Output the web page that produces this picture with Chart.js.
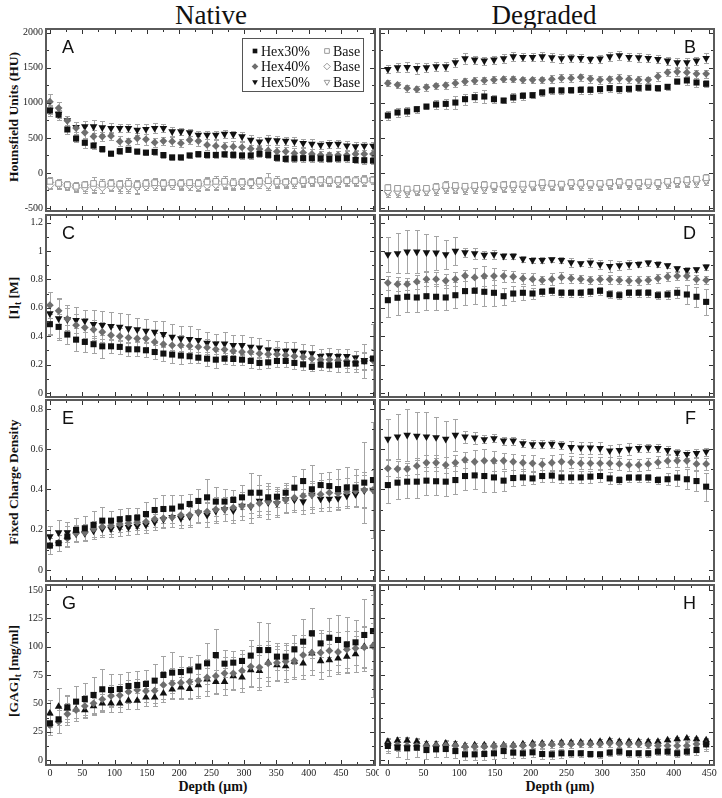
<!DOCTYPE html>
<html>
<head>
<meta charset="utf-8">
<title>Native vs Degraded</title>
<script src="https://cdn.jsdelivr.net/npm/chart.js@4.4.0/dist/chart.umd.min.js"></script>
<style>
  body { margin: 0; background: #fff; }
  #page { position: relative; width: 722px; height: 798px; overflow: hidden; font-family: "Liberation Serif", "Times New Roman", serif; color: #111; }
  canvas { position: absolute; }
  .colTitle { position: absolute; top: 0; font-size: 27px; line-height: 30px; text-align: center; white-space: nowrap; }
  .yTitle { position: absolute; left: 13px; font-weight: bold; font-size: 13.5px; line-height: 15px; white-space: nowrap; transform: translate(-50%, -50%) rotate(-90deg); }
  .yTitle sub { font-size: 9.5px; vertical-align: -3px; line-height: 0; }
  .xTitle { position: absolute; top: 779px; font-weight: bold; font-size: 14px; line-height: 16px; white-space: nowrap; transform: translateX(-50%); }
</style>
</head>
<body>
<div id="page">
  <div class="colTitle" style="left:111px;width:200px">Native</div>
  <div class="colTitle" style="left:444px;width:200px">Degraded</div>
  <div class="yTitle" style="top:117px">Hounsfield Units (HU)</div>
  <div class="yTitle" style="top:298px">[I]<sub>t</sub> [M]</div>
  <div class="yTitle" style="top:482px">Fixed Charge Density</div>
  <div class="yTitle" style="top:671px">[GAG]<sub>t</sub> [mg/ml]</div>
  <div class="xTitle" style="left:213px">Depth (μm)</div>
  <div class="xTitle" style="left:560px">Depth (μm)</div>
</div>
<script>
// Depth positions (µm)
const depthNative = [0, 13.5, 27, 40.5, 54, 67.5, 81, 94.5, 108, 121.5, 135, 148.5, 162, 175.5, 189, 202.5, 216, 229.5, 243, 256.5, 270, 283.5, 297, 310.5, 324, 337.5, 351, 364.5, 378, 391.5, 405, 418.5, 432, 445.5, 459, 472.5, 486, 499.5];
const depthDegraded = [0, 13.5, 27, 40.5, 54, 67.5, 81, 94.5, 108, 121.5, 135, 148.5, 162, 175.5, 189, 202.5, 216, 229.5, 243, 256.5, 270, 283.5, 297, 310.5, 324, 337.5, 351, 364.5, 378, 391.5, 405, 418.5, 432, 445.5];

// Tick labels
const depthTicksNative = [0, 50, 100, 150, 200, 250, 300, 350, 400, 450, 500];
const depthTicksDegraded = [0, 50, 100, 150, 200, 250, 300, 350, 400, 450];
const huTicks = [-500, 0, 500, 1000, 1500, 2000];
const iodineTicks = [0, 0.2, 0.4, 0.6, 0.8, 1, 1.2];
const fcdTicks = [0, 0.2, 0.4, 0.6, 0.8];
const gagTicks = [0, 25, 50, 75, 100, 125, 150];

// A - Hounsfield units, native
const huNat30 = [890, 830, 620, 490, 430, 390, 340, 275, 310, 330, 305, 290, 300, 255, 222, 222, 250, 268, 257, 257, 265, 257, 248, 248, 272, 257, 215, 200, 205, 210, 208, 205, 200, 205, 210, 185, 180, 175];
const huNat30Err = [75, 70, 65, 50, 70, 45, 40, 35, 40, 35, 40, 35, 40, 35, 35, 35, 40, 45, 40, 45, 40, 50, 45, 50, 45, 45, 50, 50, 45, 50, 45, 45, 40, 45, 50, 45, 50, 50];
const huNat40 = [1015, 925, 745, 640, 575, 520, 520, 528, 450, 450, 495, 480, 435, 455, 450, 425, 470, 455, 400, 385, 375, 375, 365, 345, 340, 320, 305, 305, 280, 290, 270, 255, 255, 255, 255, 270, 270, 270];
const huNat40Err = [110, 80, 60, 90, 90, 90, 60, 60, 70, 50, 80, 80, 70, 60, 60, 60, 60, 70, 80, 80, 60, 80, 70, 60, 60, 80, 70, 60, 70, 60, 70, 60, 50, 60, 60, 60, 60, 60];
const huNat50 = [900, 840, 750, 652, 662, 662, 648, 638, 638, 638, 614, 624, 638, 638, 590, 590, 576, 543, 543, 543, 557, 552, 519, 471, 447, 471, 462, 457, 447, 424, 414, 400, 409, 414, 390, 376, 386, 386];
const huNat50Err = [60, 60, 60, 70, 80, 90, 90, 70, 60, 60, 80, 70, 70, 60, 60, 50, 50, 60, 60, 60, 60, 50, 60, 70, 60, 70, 60, 60, 60, 60, 70, 60, 60, 60, 60, 60, 60, 60];
const huNatBase30 = [-120, -150, -170, -190, -170, -150, -160, -150, -160, -150, -170, -150, -140, -150, -140, -150, -140, -150, -130, -120, -120, -140, -130, -140, -120, -110, -120, -130, -120, -110, -110, -100, -110, -100, -110, -110, -100, -100];
const huNatBase30Err = [60, 60, 50, 60, 60, 90, 70, 70, 60, 80, 60, 60, 70, 60, 60, 60, 60, 60, 70, 80, 80, 70, 60, 70, 60, 110, 70, 60, 60, 60, 60, 60, 60, 60, 60, 60, 70, 60];
const huNatBase40 = [-180, -170, -190, -210, -210, -200, -210, -200, -190, -200, -200, -190, -180, -180, -170, -170, -180, -190, -180, -170, -160, -170, -160, -150, -160, -170, -150, -150, -140, -140, -130, -130, -130, -130, -120, -120, -120, -110];
const huNatBase40Err = [50, 60, 50, 60, 70, 80, 70, 60, 70, 90, 100, 60, 60, 60, 60, 60, 60, 70, 70, 80, 70, 60, 70, 60, 60, 70, 60, 60, 50, 60, 50, 60, 60, 60, 60, 50, 60, 50];
const huNatBase50 = [-160, -160, -180, -200, -200, -190, -200, -180, -200, -180, -200, -180, -150, -170, -160, -180, -180, -180, -150, -140, -150, -170, -150, -160, -140, -150, -140, -140, -150, -130, -110, -120, -130, -140, -120, -130, -110, -100];
const huNatBase50Err = [60, 70, 50, 60, 60, 80, 90, 70, 80, 80, 90, 70, 70, 60, 70, 60, 60, 60, 80, 90, 70, 70, 60, 60, 70, 60, 60, 60, 60, 60, 50, 50, 60, 60, 50, 60, 60, 60];

// B - Hounsfield units, degraded
const huDeg30 = [819, 862, 876, 909, 947, 976, 985, 1004, 1052, 1081, 1090, 1052, 1033, 1076, 1100, 1109, 1147, 1176, 1176, 1180, 1185, 1185, 1195, 1209, 1195, 1200, 1214, 1219, 1209, 1228, 1304, 1319, 1290, 1271];
const huDeg30Err = [60, 60, 60, 50, 40, 60, 70, 90, 80, 70, 90, 60, 40, 70, 60, 40, 50, 50, 50, 40, 60, 60, 50, 50, 50, 40, 40, 40, 40, 40, 40, 60, 60, 50];
const huDeg40 = [1280, 1257, 1209, 1195, 1223, 1242, 1252, 1280, 1304, 1314, 1319, 1328, 1338, 1338, 1328, 1328, 1328, 1338, 1352, 1352, 1366, 1342, 1328, 1338, 1347, 1338, 1328, 1328, 1376, 1433, 1442, 1433, 1414, 1414];
const huDeg40Err = [40, 40, 50, 40, 50, 40, 50, 60, 50, 50, 50, 50, 40, 40, 40, 40, 40, 60, 60, 60, 50, 60, 60, 50, 60, 60, 50, 40, 60, 50, 60, 70, 60, 60];
const huDeg50 = [1480, 1504, 1509, 1495, 1504, 1518, 1518, 1576, 1633, 1614, 1600, 1614, 1633, 1661, 1652, 1652, 1661, 1647, 1633, 1642, 1637, 1623, 1628, 1661, 1676, 1652, 1647, 1637, 1623, 1600, 1576, 1576, 1600, 1637];
const huDeg50Err = [60, 60, 70, 80, 70, 60, 70, 70, 80, 60, 60, 60, 70, 70, 60, 60, 60, 60, 60, 60, 60, 50, 60, 60, 60, 60, 60, 60, 60, 60, 60, 70, 60, 70];
const huDegBase30 = [-210, -220, -230, -220, -220, -200, -180, -180, -190, -180, -170, -180, -170, -170, -160, -160, -140, -150, -160, -140, -150, -150, -150, -140, -130, -140, -140, -130, -140, -120, -110, -100, -90, -70];
const huDegBase30Err = [50, 50, 50, 50, 50, 50, 60, 50, 50, 50, 60, 50, 50, 50, 50, 50, 60, 50, 50, 50, 60, 50, 50, 50, 60, 50, 50, 50, 50, 50, 50, 60, 50, 60];
const huDegBase40 = [-260, -260, -250, -250, -250, -230, -210, -210, -220, -210, -200, -190, -200, -200, -200, -180, -170, -180, -170, -160, -170, -160, -170, -160, -150, -150, -160, -160, -150, -140, -130, -130, -110, -100];
const huDegBase40Err = [60, 50, 50, 50, 60, 50, 50, 60, 50, 50, 50, 50, 60, 50, 50, 50, 50, 50, 60, 50, 50, 50, 60, 50, 50, 50, 60, 50, 50, 50, 60, 50, 50, 50];
const huDegBase50 = [-290, -280, -280, -270, -270, -250, -230, -240, -240, -230, -230, -220, -220, -210, -220, -200, -200, -190, -190, -180, -190, -180, -190, -180, -170, -170, -180, -170, -170, -160, -150, -150, -140, -120];
const huDegBase50Err = [50, 60, 60, 50, 50, 60, 50, 50, 60, 60, 50, 50, 50, 60, 50, 50, 50, 60, 50, 50, 50, 60, 50, 50, 50, 60, 50, 50, 60, 50, 50, 50, 60, 50];

// C - iodine concentration, native
const iNat30 = [0.485, 0.466, 0.412, 0.376, 0.36, 0.344, 0.329, 0.329, 0.325, 0.308, 0.308, 0.301, 0.289, 0.278, 0.271, 0.264, 0.259, 0.249, 0.242, 0.235, 0.242, 0.24, 0.235, 0.226, 0.212, 0.216, 0.226, 0.226, 0.212, 0.202, 0.184, 0.2, 0.195, 0.2, 0.207, 0.207, 0.224, 0.243];
const iNat30Err = [0.07, 0.09, 0.07, 0.08, 0.07, 0.06, 0.08, 0.05, 0.05, 0.05, 0.05, 0.05, 0.05, 0.05, 0.06, 0.06, 0.05, 0.04, 0.05, 0.06, 0.04, 0.04, 0.04, 0.05, 0.04, 0.04, 0.04, 0.04, 0.04, 0.04, 0.03, 0.04, 0.04, 0.05, 0.06, 0.06, 0.12, 0.24];
const iNat40 = [0.619, 0.579, 0.522, 0.478, 0.461, 0.447, 0.43, 0.407, 0.4, 0.39, 0.384, 0.384, 0.36, 0.344, 0.336, 0.336, 0.332, 0.325, 0.32, 0.308, 0.306, 0.296, 0.289, 0.289, 0.278, 0.273, 0.273, 0.266, 0.259, 0.254, 0.242, 0.235, 0.235, 0.23, 0.226, 0.219, 0.225, 0.23];
const iNat40Err = [0.09, 0.09, 0.08, 0.08, 0.07, 0.07, 0.07, 0.06, 0.06, 0.07, 0.06, 0.06, 0.06, 0.06, 0.07, 0.07, 0.06, 0.06, 0.06, 0.06, 0.05, 0.05, 0.05, 0.05, 0.05, 0.05, 0.05, 0.05, 0.05, 0.05, 0.05, 0.05, 0.05, 0.05, 0.05, 0.05, 0.06, 0.07];
const iNat50 = [0.56, 0.525, 0.518, 0.513, 0.508, 0.485, 0.478, 0.47, 0.466, 0.454, 0.447, 0.438, 0.43, 0.414, 0.395, 0.384, 0.379, 0.372, 0.353, 0.348, 0.348, 0.336, 0.336, 0.325, 0.32, 0.306, 0.296, 0.296, 0.296, 0.282, 0.278, 0.259, 0.264, 0.259, 0.259, 0.249, 0.232, 0.24];
const iNat50Err = [0.15, 0.14, 0.1, 0.09, 0.08, 0.1, 0.1, 0.1, 0.1, 0.1, 0.08, 0.08, 0.08, 0.09, 0.09, 0.09, 0.09, 0.08, 0.08, 0.07, 0.08, 0.07, 0.07, 0.07, 0.07, 0.07, 0.07, 0.06, 0.06, 0.06, 0.06, 0.05, 0.05, 0.05, 0.05, 0.05, 0.06, 0.07];

// D - iodine concentration, degraded
const iDeg30 = [0.654, 0.671, 0.678, 0.673, 0.682, 0.678, 0.673, 0.689, 0.718, 0.72, 0.713, 0.706, 0.682, 0.701, 0.706, 0.701, 0.713, 0.72, 0.706, 0.706, 0.706, 0.713, 0.72, 0.696, 0.689, 0.706, 0.706, 0.706, 0.689, 0.694, 0.706, 0.694, 0.678, 0.642];
const iDeg30Err = [0.12, 0.12, 0.11, 0.1, 0.1, 0.09, 0.09, 0.09, 0.1, 0.09, 0.1, 0.09, 0.06, 0.05, 0.05, 0.04, 0.03, 0.03, 0.03, 0.03, 0.03, 0.03, 0.03, 0.03, 0.03, 0.03, 0.03, 0.03, 0.03, 0.03, 0.04, 0.07, 0.07, 0.09];
const iDeg40 = [0.776, 0.767, 0.767, 0.784, 0.802, 0.802, 0.791, 0.802, 0.826, 0.814, 0.824, 0.824, 0.824, 0.819, 0.807, 0.802, 0.795, 0.802, 0.814, 0.807, 0.802, 0.795, 0.8, 0.8, 0.795, 0.791, 0.791, 0.795, 0.807, 0.819, 0.824, 0.824, 0.8, 0.795];
const iDeg40Err = [0.05, 0.05, 0.04, 0.05, 0.05, 0.05, 0.05, 0.05, 0.04, 0.07, 0.07, 0.06, 0.04, 0.04, 0.04, 0.04, 0.03, 0.04, 0.04, 0.03, 0.03, 0.03, 0.03, 0.03, 0.03, 0.03, 0.03, 0.03, 0.03, 0.03, 0.03, 0.03, 0.03, 0.03];
const iDeg50 = [0.976, 0.984, 0.995, 0.995, 0.99, 0.988, 0.976, 1.0, 0.99, 0.984, 0.972, 0.976, 0.965, 0.965, 0.944, 0.936, 0.936, 0.941, 0.936, 0.92, 0.913, 0.918, 0.906, 0.894, 0.899, 0.906, 0.908, 0.918, 0.908, 0.899, 0.878, 0.866, 0.871, 0.889];
const iDeg50Err = [0.12, 0.14, 0.15, 0.15, 0.13, 0.12, 0.1, 0.1, 0.03, 0.04, 0.03, 0.03, 0.02, 0.02, 0.02, 0.02, 0.02, 0.02, 0.02, 0.03, 0.02, 0.03, 0.03, 0.04, 0.03, 0.03, 0.02, 0.02, 0.02, 0.02, 0.02, 0.02, 0.02, 0.02];

// E - fixed charge density, native
const fcdNat30 = [0.121, 0.133, 0.166, 0.199, 0.207, 0.224, 0.245, 0.245, 0.252, 0.257, 0.26, 0.278, 0.298, 0.303, 0.305, 0.315, 0.328, 0.343, 0.361, 0.34, 0.34, 0.348, 0.361, 0.384, 0.384, 0.361, 0.364, 0.384, 0.409, 0.442, 0.401, 0.422, 0.417, 0.402, 0.41, 0.41, 0.434, 0.447];
const fcdNat30Err = [0.04, 0.04, 0.05, 0.06, 0.06, 0.07, 0.07, 0.05, 0.05, 0.05, 0.05, 0.06, 0.06, 0.07, 0.07, 0.06, 0.05, 0.06, 0.09, 0.07, 0.06, 0.05, 0.06, 0.1, 0.09, 0.07, 0.05, 0.05, 0.06, 0.06, 0.12, 0.06, 0.07, 0.1, 0.1, 0.09, 0.2, 0.29];
const fcdNat40 = [0.121, 0.136, 0.157, 0.182, 0.186, 0.204, 0.215, 0.22, 0.229, 0.232, 0.237, 0.24, 0.253, 0.257, 0.262, 0.273, 0.273, 0.287, 0.29, 0.301, 0.303, 0.31, 0.318, 0.318, 0.331, 0.34, 0.335, 0.348, 0.359, 0.368, 0.373, 0.376, 0.384, 0.381, 0.389, 0.393, 0.398, 0.398];
const fcdNat40Err = [0.04, 0.04, 0.04, 0.04, 0.04, 0.04, 0.04, 0.04, 0.04, 0.04, 0.04, 0.04, 0.04, 0.05, 0.05, 0.05, 0.05, 0.05, 0.05, 0.06, 0.06, 0.06, 0.05, 0.06, 0.06, 0.06, 0.06, 0.06, 0.06, 0.07, 0.07, 0.07, 0.07, 0.07, 0.07, 0.08, 0.09, 0.1];
const fcdNat50 = [0.166, 0.186, 0.187, 0.179, 0.182, 0.194, 0.204, 0.204, 0.21, 0.212, 0.219, 0.224, 0.238, 0.252, 0.262, 0.257, 0.265, 0.285, 0.273, 0.293, 0.301, 0.295, 0.318, 0.315, 0.343, 0.335, 0.331, 0.351, 0.348, 0.34, 0.373, 0.353, 0.353, 0.356, 0.369, 0.376, 0.394, 0.398];
const fcdNat50Err = [0.05, 0.06, 0.05, 0.04, 0.04, 0.04, 0.04, 0.04, 0.04, 0.04, 0.04, 0.04, 0.04, 0.04, 0.05, 0.05, 0.05, 0.05, 0.06, 0.06, 0.06, 0.06, 0.07, 0.08, 0.08, 0.08, 0.07, 0.07, 0.06, 0.06, 0.06, 0.06, 0.06, 0.06, 0.06, 0.06, 0.08, 0.1];

// F - fixed charge density, degraded
const fcdDeg30 = [0.422, 0.434, 0.439, 0.439, 0.444, 0.441, 0.439, 0.447, 0.467, 0.47, 0.467, 0.46, 0.444, 0.457, 0.46, 0.455, 0.467, 0.469, 0.46, 0.46, 0.46, 0.464, 0.467, 0.455, 0.447, 0.459, 0.459, 0.459, 0.447, 0.451, 0.459, 0.451, 0.442, 0.414];
const fcdDeg30Err = [0.09, 0.08, 0.08, 0.08, 0.07, 0.07, 0.07, 0.07, 0.07, 0.07, 0.08, 0.07, 0.05, 0.04, 0.04, 0.03, 0.03, 0.03, 0.03, 0.03, 0.03, 0.03, 0.03, 0.03, 0.02, 0.02, 0.02, 0.02, 0.02, 0.03, 0.04, 0.05, 0.05, 0.07];
const fcdDeg40 = [0.505, 0.502, 0.502, 0.517, 0.533, 0.533, 0.522, 0.533, 0.547, 0.538, 0.543, 0.543, 0.543, 0.538, 0.533, 0.53, 0.525, 0.533, 0.538, 0.535, 0.53, 0.53, 0.53, 0.53, 0.527, 0.522, 0.522, 0.527, 0.535, 0.542, 0.543, 0.543, 0.527, 0.527];
const fcdDeg40Err = [0.04, 0.04, 0.03, 0.04, 0.04, 0.04, 0.04, 0.04, 0.04, 0.06, 0.06, 0.05, 0.04, 0.04, 0.04, 0.04, 0.03, 0.04, 0.04, 0.03, 0.03, 0.03, 0.03, 0.03, 0.03, 0.03, 0.03, 0.03, 0.03, 0.03, 0.03, 0.03, 0.03, 0.03];
const fcdDeg50 = [0.651, 0.663, 0.671, 0.666, 0.663, 0.659, 0.651, 0.671, 0.663, 0.658, 0.649, 0.654, 0.643, 0.643, 0.629, 0.624, 0.624, 0.626, 0.621, 0.61, 0.608, 0.608, 0.605, 0.593, 0.596, 0.601, 0.605, 0.608, 0.605, 0.596, 0.583, 0.576, 0.58, 0.588];
const fcdDeg50Err = [0.1, 0.11, 0.13, 0.12, 0.12, 0.1, 0.09, 0.08, 0.03, 0.03, 0.02, 0.02, 0.02, 0.02, 0.02, 0.02, 0.02, 0.02, 0.02, 0.03, 0.03, 0.03, 0.03, 0.03, 0.03, 0.03, 0.02, 0.02, 0.02, 0.02, 0.02, 0.02, 0.02, 0.02];

// G - GAG concentration, native
const gagNat30 = [32.4, 35.9, 46.5, 51.5, 53.8, 57.4, 62.4, 61.8, 62.6, 65.3, 66.2, 67.1, 70, 75, 77.1, 77.6, 79.1, 82.4, 85.3, 92.6, 85, 85.9, 87.4, 92.1, 97, 97, 91.2, 91.2, 97.6, 104.4, 111.8, 102.9, 107.9, 105.9, 102, 103.8, 110.3, 113.8];
const gagNat30Err = [8, 12, 10, 14, 14, 16, 18, 14, 13, 12, 12, 12, 15, 17, 18, 14, 12, 10, 18, 23, 12, 10, 10, 14, 25, 24, 12, 12, 13, 20, 22, 12, 17, 22, 24, 20, 32, 40];
const gagNat40 = [30.9, 33.8, 40.6, 44.1, 47.6, 50, 53.5, 56.5, 57.1, 60.3, 61.8, 60.9, 61.2, 66.2, 67.6, 68.2, 69.1, 70, 72.9, 74.1, 76.5, 76.5, 78.8, 82.4, 81.8, 85.3, 85.9, 86.8, 87.6, 92.6, 94.7, 94.7, 96.5, 95.3, 97.6, 98.5, 99.4, 100.6];
const gagNat40Err = [9, 10, 10, 10, 10, 10, 10, 10, 10, 10, 10, 10, 11, 12, 14, 14, 14, 15, 16, 16, 14, 14, 15, 18, 20, 20, 15, 15, 16, 18, 20, 17, 17, 18, 16, 15, 18, 45];
const gagNat50 = [41.2, 47.1, 45.6, 44.7, 44.1, 47.6, 50, 50, 50, 52.4, 52.4, 55.3, 55.3, 58.8, 62.4, 64.1, 62.9, 66.2, 71.2, 69.1, 69.1, 74.1, 72.9, 79.4, 78.8, 85.9, 83.8, 82.9, 86.8, 85.3, 94.1, 87.4, 88.2, 89.7, 91.2, 93.5, 100, 100.6];
const gagNat50Err = [12, 16, 12, 8, 7, 7, 8, 8, 8, 7, 7, 8, 8, 8, 8, 9, 9, 10, 10, 10, 12, 12, 13, 14, 14, 16, 14, 14, 14, 14, 15, 16, 14, 14, 14, 16, 18, 20];

// H - GAG concentration, degraded
const gagDeg30 = [12.4, 10.9, 10.3, 10.9, 8.8, 9.4, 9.7, 7.9, 5, 5, 5.3, 5.9, 7.9, 6.5, 5.9, 6.8, 5.3, 5, 5.9, 5.9, 5.9, 5.3, 5, 6.5, 7.4, 5.9, 5.9, 5.9, 7.4, 7.4, 5.9, 7.4, 8.8, 13.8];
const gagDeg30Err = [6, 8, 9, 8, 8, 7, 7, 6, 5, 5, 5, 5, 6, 5, 4, 4, 4, 4, 4, 3, 3, 3, 3, 3, 3, 3, 3, 3, 3, 3, 3, 3, 4, 6];
const gagDeg40 = [13.2, 13.2, 12.6, 12.4, 12.4, 12.6, 12.9, 12.6, 11.8, 11.8, 11.8, 12.4, 12.4, 12.4, 12.6, 13.2, 13.5, 13.8, 14.1, 13.8, 14.1, 14.1, 14.1, 14.7, 14.1, 14.1, 14.1, 13.2, 12.6, 12.6, 12.6, 12.6, 14.1, 14.1];
const gagDeg40Err = [5, 5, 4, 4, 4, 4, 4, 4, 3, 3, 3, 3, 3, 3, 3, 3, 3, 3, 3, 3, 3, 3, 3, 3, 3, 3, 3, 3, 3, 3, 3, 3, 3, 4];
const gagDeg50 = [16.2, 17.1, 17.1, 16.2, 14.1, 13.8, 14.7, 14.1, 12.6, 13.2, 13.2, 13.2, 13.2, 13.2, 14.1, 14.7, 14.7, 14.7, 15.3, 15.3, 15.6, 15.6, 16.2, 17.1, 16.2, 16.2, 16.2, 16.2, 16.2, 17.6, 18.5, 19.1, 18.5, 17.6];
const gagDeg50Err = [3, 3, 3, 3, 3, 3, 3, 3, 2, 2, 2, 2, 2, 2, 2, 2, 2, 2, 2, 2, 2, 2, 2, 2, 2, 2, 2, 2, 2, 2, 2, 2, 2, 2];

// Layout of the panels (pixels)
const cols = [{ left: 46, right: 375 }, { left: 380, right: 714 }];
const rows = [{ top: 29, bottom: 211 }, { top: 215, bottom: 397 }, { top: 400, bottom: 581 }, { top: 585, bottom: 765 }];
const xAxes = [
  { min: -6, max: 502.6, labels: depthTicksNative, depth: depthNative },
  { min: -11, max: 456.5, labels: depthTicksDegraded, depth: depthDegraded }
];
const yAxes = [
  { min: -543, max: 2053, labels: huTicks, minor: 250 },
  { min: -0.028, max: 1.254, labels: iodineTicks, minor: 0.1 },
  { min: -0.055, max: 0.845, labels: fcdTicks, minor: 0.1 },
  { min: -4.4, max: 154.4, labels: gagTicks, minor: 12.5 }
];

// Marker styles
const hex30 = { pointStyle: 'rect', pointRadius: 4.3, pointBackgroundColor: '#111', pointBorderWidth: 0 };
const hex40 = { pointStyle: 'rectRot', pointRadius: 3.9, pointBackgroundColor: '#6e6e6e', pointBorderWidth: 0 };
const hex50 = { pointStyle: 'triangle', pointRotation: 180, pointRadius: 4.4, pointBackgroundColor: '#111', pointBorderWidth: 0 };
const hex50up = { pointStyle: 'triangle', pointRotation: 0, pointRadius: 4.4, pointBackgroundColor: '#111', pointBorderWidth: 0 };
const base30 = { pointStyle: 'rect', pointRadius: 4, pointBackgroundColor: '#fff', pointBorderColor: '#999', pointBorderWidth: 1 };
const base40 = { pointStyle: 'rectRot', pointRadius: 3.8, pointBackgroundColor: '#fff', pointBorderColor: '#999', pointBorderWidth: 1 };
const base50 = { pointStyle: 'triangle', pointRotation: 180, pointRadius: 4.2, pointBackgroundColor: '#fff', pointBorderColor: '#999', pointBorderWidth: 1 };

function series(label, depth, values, errors, style) {
  return Object.assign({ label: label, data: depth.map((d, i) => ({ x: d, y: values[i] })), errors: errors }, style);
}

const panels = [
  { letter: 'A', col: 0, row: 0, legend: true, sets: [
    series('Hex30%', depthNative, huNat30, huNat30Err, hex30),
    series('Hex40%', depthNative, huNat40, huNat40Err, hex40),
    series('Hex50%', depthNative, huNat50, huNat50Err, hex50),
    series('Base', depthNative, huNatBase30, huNatBase30Err, base30),
    series('Base', depthNative, huNatBase40, huNatBase40Err, base40),
    series('Base', depthNative, huNatBase50, huNatBase50Err, base50)] },
  { letter: 'B', col: 1, row: 0, sets: [
    series('Hex30%', depthDegraded, huDeg30, huDeg30Err, hex30),
    series('Hex40%', depthDegraded, huDeg40, huDeg40Err, hex40),
    series('Hex50%', depthDegraded, huDeg50, huDeg50Err, hex50),
    series('Base', depthDegraded, huDegBase30, huDegBase30Err, base30),
    series('Base', depthDegraded, huDegBase40, huDegBase40Err, base40),
    series('Base', depthDegraded, huDegBase50, huDegBase50Err, base50)] },
  { letter: 'C', col: 0, row: 1, sets: [
    series('Hex30%', depthNative, iNat30, iNat30Err, hex30),
    series('Hex40%', depthNative, iNat40, iNat40Err, hex40),
    series('Hex50%', depthNative, iNat50, iNat50Err, hex50)] },
  { letter: 'D', col: 1, row: 1, sets: [
    series('Hex30%', depthDegraded, iDeg30, iDeg30Err, hex30),
    series('Hex40%', depthDegraded, iDeg40, iDeg40Err, hex40),
    series('Hex50%', depthDegraded, iDeg50, iDeg50Err, hex50)] },
  { letter: 'E', col: 0, row: 2, sets: [
    series('Hex30%', depthNative, fcdNat30, fcdNat30Err, hex30),
    series('Hex40%', depthNative, fcdNat40, fcdNat40Err, hex40),
    series('Hex50%', depthNative, fcdNat50, fcdNat50Err, hex50)] },
  { letter: 'F', col: 1, row: 2, sets: [
    series('Hex30%', depthDegraded, fcdDeg30, fcdDeg30Err, hex30),
    series('Hex40%', depthDegraded, fcdDeg40, fcdDeg40Err, hex40),
    series('Hex50%', depthDegraded, fcdDeg50, fcdDeg50Err, hex50)] },
  { letter: 'G', col: 0, row: 3, sets: [
    series('Hex30%', depthNative, gagNat30, gagNat30Err, hex30),
    series('Hex40%', depthNative, gagNat40, gagNat40Err, hex40),
    series('Hex50%', depthNative, gagNat50, gagNat50Err, hex50up)] },
  { letter: 'H', col: 1, row: 3, sets: [
    series('Hex30%', depthDegraded, gagDeg30, gagDeg30Err, hex30),
    series('Hex40%', depthDegraded, gagDeg40, gagDeg40Err, hex40),
    series('Hex50%', depthDegraded, gagDeg50, gagDeg50Err, hex50up)] }
];

// tick mark positions between min and max, every step, flagged major when a label sits there
function tickMarks(min, max, step, labels) {
  const out = [];
  for (let k = Math.ceil(min / step - 1e-9); k * step <= max + 1e-9; k++) {
    const v = k * step;
    out.push({ v: v, major: labels.some(l => Math.abs(l - v) < step / 10) });
  }
  return out;
}

function drawMarker(ctx, ds, x, y, r) {
  const s = ds.pointStyle;
  ctx.beginPath();
  if (s === 'rect') {
    ctx.rect(x - r * 0.707, y - r * 0.707, r * 1.414, r * 1.414);
  } else if (s === 'rectRot') {
    ctx.moveTo(x - r, y); ctx.lineTo(x, y - r); ctx.lineTo(x + r, y); ctx.lineTo(x, y + r); ctx.closePath();
  } else {
    const d = ds.pointRotation ? -1 : 1;
    ctx.moveTo(x, y - d * r); ctx.lineTo(x + r * 0.866, y + d * r * 0.5); ctx.lineTo(x - r * 0.866, y + d * r * 0.5); ctx.closePath();
  }
  ctx.fillStyle = ds.pointBackgroundColor;
  ctx.fill();
  if (ds.pointBorderWidth) { ctx.strokeStyle = ds.pointBorderColor; ctx.lineWidth = 1; ctx.stroke(); }
}

const decor = {
  id: 'decor',
  beforeDatasetsDraw(chart) {
    const ctx = chart.ctx, a = chart.chartArea, y = chart.scales.y;
    ctx.save();
    ctx.beginPath();
    ctx.rect(a.left, a.top, a.right - a.left, a.bottom - a.top);
    ctx.clip();
    ctx.strokeStyle = '#a4a4a4';
    ctx.lineWidth = 1;
    chart.data.datasets.forEach((ds, i) => {
      chart.getDatasetMeta(i).data.forEach((pt, j) => {
        const v = ds.data[j].y, e = ds.errors[j];
        const px = Math.round(pt.x) + 0.5;
        const y1 = Math.round(y.getPixelForValue(v + e)) + 0.5;
        const y2 = Math.round(y.getPixelForValue(v - e)) + 0.5;
        ctx.beginPath();
        ctx.moveTo(px, y1); ctx.lineTo(px, y2);
        ctx.moveTo(px - 2.5, y1); ctx.lineTo(px + 2.5, y1);
        ctx.moveTo(px - 2.5, y2); ctx.lineTo(px + 2.5, y2);
        ctx.stroke();
      });
    });
    ctx.restore();
  },
  afterDraw(chart) {
    const p = chart.canvas.panel;
    const ctx = chart.ctx, a = chart.chartArea, x = chart.scales.x, y = chart.scales.y;
    const xa = xAxes[p.col], ya = yAxes[p.row];
    ctx.save();
    // inward tick marks on all four sides
    ctx.strokeStyle = '#333';
    ctx.lineWidth = 1;
    ctx.beginPath();
    tickMarks(xa.min, xa.max, 25, xa.labels).forEach(t => {
      const px = Math.round(x.getPixelForValue(t.v)) + 0.5, len = t.major ? 5 : 3;
      ctx.moveTo(px, a.top); ctx.lineTo(px, a.top + len);
      ctx.moveTo(px, a.bottom); ctx.lineTo(px, a.bottom - len);
    });
    tickMarks(ya.min, ya.max, ya.minor, ya.labels).forEach(t => {
      const py = Math.round(y.getPixelForValue(t.v)) + 0.5, len = t.major ? 5 : 3;
      ctx.moveTo(a.left, py); ctx.lineTo(a.left + len, py);
      ctx.moveTo(a.right, py); ctx.lineTo(a.right - len, py);
    });
    ctx.stroke();
    // frame
    ctx.strokeStyle = '#5a5a5a';
    ctx.lineWidth = 2;
    ctx.strokeRect(a.left, a.top, a.right - a.left, a.bottom - a.top);
    // panel letter
    ctx.fillStyle = '#111';
    ctx.font = '18px "Liberation Sans", Arial, sans-serif';
    ctx.textBaseline = 'alphabetic';
    if (p.col === 0) { ctx.textAlign = 'left'; ctx.fillText(p.letter, a.left + 16, a.top + 24); }
    else { ctx.textAlign = 'right'; ctx.fillText(p.letter, a.right - 18, a.top + 24); }
    // legend box
    if (p.legend) {
      const bx = a.left + 196, by = a.top + 9, bw = 121, bh = 53;
      ctx.fillStyle = '#fff';
      ctx.fillRect(bx, by, bw, bh);
      ctx.strokeStyle = '#555';
      ctx.lineWidth = 1;
      ctx.strokeRect(bx + 0.5, by + 0.5, bw, bh);
      ctx.font = '14px "Liberation Serif", "Times New Roman", serif';
      ctx.textAlign = 'left';
      ctx.textBaseline = 'middle';
      chart.data.datasets.forEach((ds, i) => {
        const c = Math.floor(i / 3), r = i % 3;
        const sx = bx + 13 + c * 72, sy = by + 13 + r * 15.5;
        drawMarker(ctx, ds, sx, sy, 3.3);
        ctx.fillStyle = '#111';
        ctx.fillText(ds.label, sx + 6, sy + 1);
      });
    }
    ctx.restore();
  }
};

Chart.defaults.font.family = '"Liberation Serif", "Times New Roman", serif';
const page = document.getElementById('page');

panels.forEach(p => {
  const col = cols[p.col], row = rows[p.row], xa = xAxes[p.col], ya = yAxes[p.row];
  const lastRow = p.row === 3;
  const cl = p.col === 0 ? 0 : col.left - 4;
  const cr = p.col === 0 ? col.right + 4 : 722;
  const ct = row.top - 4;
  const cb = lastRow ? row.bottom + 20 : row.bottom + 4;
  const cv = document.createElement('canvas');
  cv.width = cr - cl;
  cv.height = cb - ct;
  cv.style.left = cl + 'px';
  cv.style.top = ct + 'px';
  cv.panel = p;
  page.appendChild(cv);

  new Chart(cv, {
    type: 'scatter',
    data: { datasets: p.sets },
    options: {
      responsive: false,
      animation: false,
      events: [],
      layout: { autoPadding: false, padding: { left: 0, top: row.top - ct, right: cr - col.right, bottom: 0 } },
      plugins: { legend: { display: false }, tooltip: { enabled: false } },
      scales: {
        x: {
          type: 'linear', position: 'bottom', min: xa.min, max: xa.max,
          grid: { display: false, drawTicks: false }, border: { display: false },
          afterBuildTicks: s => { s.ticks = xa.labels.map(v => ({ value: v })); },
          afterFit: s => { s.height = cb - row.bottom; s.paddingLeft = 0; s.paddingRight = 0; },
          ticks: { display: lastRow, padding: 2, autoSkip: false, maxRotation: 0, color: '#222', font: { size: 10 }, callback: v => String(v) }
        },
        y: {
          type: 'linear', position: 'left', min: ya.min, max: ya.max,
          grid: { display: false, drawTicks: false }, border: { display: false },
          afterBuildTicks: s => { s.ticks = ya.labels.map(v => ({ value: v })); },
          afterFit: s => { s.width = col.left - cl; s.paddingTop = 0; s.paddingBottom = 0; },
          ticks: { display: p.col === 0, padding: 3, autoSkip: false, color: '#222', font: { size: 10 }, callback: v => String(v) }
        }
      }
    },
    plugins: [decor]
  });
});
</script>
</body>
</html>
